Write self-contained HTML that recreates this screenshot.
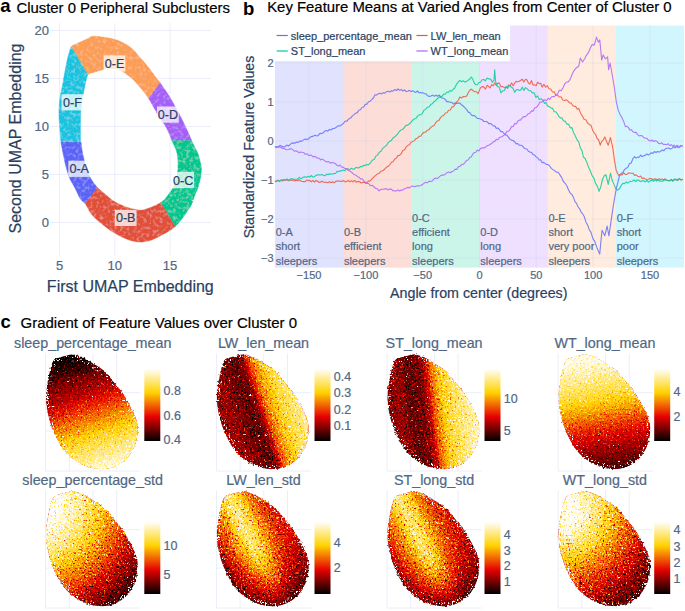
<!DOCTYPE html>
<html><head><meta charset="utf-8"><style>
html,body{margin:0;padding:0;background:#fff;width:685px;height:611px;overflow:hidden}
svg{display:block}
text{font-family:"Liberation Sans",sans-serif;stroke-width:0.2px;paint-order:stroke}
</style></head><body>
<svg width="685" height="611" viewBox="0 0 685 611">
<defs>
<linearGradient id="cb" x1="0" y1="1" x2="0" y2="0"><stop offset="0" stop-color="#000"/><stop offset="0.3333" stop-color="#e60000"/><stop offset="0.6667" stop-color="#ffd200"/><stop offset="1" stop-color="#fff"/></linearGradient>
<linearGradient id="g00_0" gradientUnits="userSpaceOnUse" x1="1.9569160964801577" y1="5.8996345182142225" x2="41.39239031672308" y2="124.78816804827262"><stop offset="0.000" stop-color="rgb(0,0,0)"/><stop offset="0.111" stop-color="rgb(14,14,14)"/><stop offset="0.222" stop-color="rgb(43,43,43)"/><stop offset="0.333" stop-color="rgb(66,66,66)"/><stop offset="0.444" stop-color="rgb(97,97,97)"/><stop offset="0.556" stop-color="rgb(134,134,134)"/><stop offset="0.667" stop-color="rgb(169,169,169)"/><stop offset="0.778" stop-color="rgb(200,200,200)"/><stop offset="0.889" stop-color="rgb(225,225,225)"/><stop offset="1.000" stop-color="rgb(252,252,252)"/></linearGradient>
<linearGradient id="g01_0" gradientUnits="userSpaceOnUse" x1="-10.967069019072602" y1="3.651837523737558" x2="69.21436310990634" y2="-23.04714303765059"><stop offset="0.000" stop-color="rgb(57,57,57)"/><stop offset="0.067" stop-color="rgb(55,55,55)"/><stop offset="0.133" stop-color="rgb(51,51,51)"/><stop offset="0.200" stop-color="rgb(43,43,43)"/><stop offset="0.267" stop-color="rgb(38,38,38)"/><stop offset="0.333" stop-color="rgb(37,37,37)"/><stop offset="0.400" stop-color="rgb(51,51,51)"/><stop offset="0.467" stop-color="rgb(112,112,112)"/><stop offset="0.533" stop-color="rgb(145,145,145)"/><stop offset="0.600" stop-color="rgb(166,166,166)"/><stop offset="0.667" stop-color="rgb(183,183,183)"/><stop offset="0.733" stop-color="rgb(196,196,196)"/><stop offset="0.800" stop-color="rgb(204,204,204)"/><stop offset="0.867" stop-color="rgb(214,214,214)"/><stop offset="0.933" stop-color="rgb(220,220,220)"/><stop offset="1.000" stop-color="rgb(232,232,232)"/></linearGradient>
<linearGradient id="g02_0" gradientUnits="userSpaceOnUse" x1="-0.47243365987725383" y1="0.057091680951933954" x2="88.3876305782436" y2="-10.681284662023398"><stop offset="0.000" stop-color="rgb(48,48,48)"/><stop offset="0.067" stop-color="rgb(59,59,59)"/><stop offset="0.133" stop-color="rgb(49,49,49)"/><stop offset="0.200" stop-color="rgb(36,36,36)"/><stop offset="0.267" stop-color="rgb(39,39,39)"/><stop offset="0.333" stop-color="rgb(42,42,42)"/><stop offset="0.400" stop-color="rgb(71,71,71)"/><stop offset="0.467" stop-color="rgb(127,127,127)"/><stop offset="0.533" stop-color="rgb(164,164,164)"/><stop offset="0.600" stop-color="rgb(183,183,183)"/><stop offset="0.667" stop-color="rgb(196,196,196)"/><stop offset="0.733" stop-color="rgb(209,209,209)"/><stop offset="0.800" stop-color="rgb(218,218,218)"/><stop offset="0.867" stop-color="rgb(225,225,225)"/><stop offset="0.933" stop-color="rgb(232,232,232)"/><stop offset="1.000" stop-color="rgb(255,255,255)"/></linearGradient>
<linearGradient id="g03_0" gradientUnits="userSpaceOnUse" x1="21.79602128600093" y1="131.57234569277628" x2="1.6948310431042684" y2="10.251646314709548"><stop offset="0.000" stop-color="rgb(12,12,12)"/><stop offset="0.091" stop-color="rgb(27,27,27)"/><stop offset="0.182" stop-color="rgb(43,43,43)"/><stop offset="0.273" stop-color="rgb(62,62,62)"/><stop offset="0.364" stop-color="rgb(84,84,84)"/><stop offset="0.455" stop-color="rgb(109,109,109)"/><stop offset="0.545" stop-color="rgb(140,140,140)"/><stop offset="0.636" stop-color="rgb(170,170,170)"/><stop offset="0.727" stop-color="rgb(196,196,196)"/><stop offset="0.818" stop-color="rgb(214,214,214)"/><stop offset="0.909" stop-color="rgb(232,232,232)"/><stop offset="1.000" stop-color="rgb(248,248,248)"/></linearGradient>
<radialGradient id="g10_0" gradientUnits="userSpaceOnUse" cx="-12" cy="12" r="140.0"><stop offset="0.000" stop-color="rgb(255,255,255)"/><stop offset="0.167" stop-color="rgb(255,255,255)"/><stop offset="0.250" stop-color="rgb(242,242,242)"/><stop offset="0.333" stop-color="rgb(219,219,219)"/><stop offset="0.417" stop-color="rgb(191,191,191)"/><stop offset="0.500" stop-color="rgb(163,163,163)"/><stop offset="0.583" stop-color="rgb(135,135,135)"/><stop offset="0.667" stop-color="rgb(107,107,107)"/><stop offset="0.750" stop-color="rgb(76,76,76)"/><stop offset="0.833" stop-color="rgb(48,48,48)"/><stop offset="0.917" stop-color="rgb(22,22,22)"/><stop offset="1.000" stop-color="rgb(0,0,0)"/></radialGradient>
<radialGradient id="g13_0" gradientUnits="userSpaceOnUse" cx="4" cy="20" r="125.0"><stop offset="0.000" stop-color="rgb(255,255,255)"/><stop offset="0.083" stop-color="rgb(255,255,255)"/><stop offset="0.167" stop-color="rgb(242,242,242)"/><stop offset="0.250" stop-color="rgb(216,216,216)"/><stop offset="0.333" stop-color="rgb(188,188,188)"/><stop offset="0.417" stop-color="rgb(160,160,160)"/><stop offset="0.500" stop-color="rgb(135,135,135)"/><stop offset="0.583" stop-color="rgb(109,109,109)"/><stop offset="0.667" stop-color="rgb(86,86,86)"/><stop offset="0.750" stop-color="rgb(63,63,63)"/><stop offset="0.833" stop-color="rgb(43,43,43)"/><stop offset="0.917" stop-color="rgb(22,22,22)"/><stop offset="1.000" stop-color="rgb(5,5,5)"/></radialGradient>
<linearGradient id="g11_0" gradientUnits="userSpaceOnUse" x1="-16.2" y1="30.8" x2="68.5" y2="-12.1"><stop offset="0.000" stop-color="rgb(44,44,44)"/><stop offset="0.091" stop-color="rgb(94,94,94)"/><stop offset="0.182" stop-color="rgb(127,127,127)"/><stop offset="0.273" stop-color="rgb(170,170,170)"/><stop offset="0.364" stop-color="rgb(216,216,216)"/><stop offset="0.455" stop-color="rgb(191,191,191)"/><stop offset="0.545" stop-color="rgb(147,147,147)"/><stop offset="0.636" stop-color="rgb(114,114,114)"/><stop offset="0.727" stop-color="rgb(96,96,96)"/><stop offset="0.818" stop-color="rgb(86,86,86)"/><stop offset="0.909" stop-color="rgb(84,84,84)"/><stop offset="1.000" stop-color="rgb(84,84,84)"/></linearGradient>
<linearGradient id="g11_1" gradientUnits="userSpaceOnUse" x1="33.0" y1="50.7" x2="66.9" y2="117.6"><stop offset="0.000" stop-color="#000" stop-opacity="0.0"/><stop offset="0.200" stop-color="#000" stop-opacity="0.08"/><stop offset="0.400" stop-color="#000" stop-opacity="0.23"/><stop offset="0.600" stop-color="#000" stop-opacity="0.42"/><stop offset="0.800" stop-color="#000" stop-opacity="0.65"/><stop offset="1.000" stop-color="#000" stop-opacity="0.88"/></linearGradient>
<linearGradient id="g12_0" gradientUnits="userSpaceOnUse" x1="-16.3" y1="30.7" x2="68.7" y2="-11.8"><stop offset="0.000" stop-color="rgb(58,58,58)"/><stop offset="0.091" stop-color="rgb(99,99,99)"/><stop offset="0.182" stop-color="rgb(132,132,132)"/><stop offset="0.273" stop-color="rgb(170,170,170)"/><stop offset="0.364" stop-color="rgb(211,211,211)"/><stop offset="0.455" stop-color="rgb(183,183,183)"/><stop offset="0.545" stop-color="rgb(140,140,140)"/><stop offset="0.636" stop-color="rgb(112,112,112)"/><stop offset="0.727" stop-color="rgb(94,94,94)"/><stop offset="0.818" stop-color="rgb(81,81,81)"/><stop offset="0.909" stop-color="rgb(73,73,73)"/><stop offset="1.000" stop-color="rgb(68,68,68)"/></linearGradient>
<linearGradient id="g12_1" gradientUnits="userSpaceOnUse" x1="32.9" y1="50.8" x2="66.4" y2="117.9"><stop offset="0.000" stop-color="#000" stop-opacity="0.0"/><stop offset="0.200" stop-color="#000" stop-opacity="0.05"/><stop offset="0.400" stop-color="#000" stop-opacity="0.18"/><stop offset="0.600" stop-color="#000" stop-opacity="0.37"/><stop offset="0.800" stop-color="#000" stop-opacity="0.62"/><stop offset="1.000" stop-color="#000" stop-opacity="0.88"/></linearGradient>
<filter id="hot00" x="-5%" y="-5%" width="110%" height="110%" color-interpolation-filters="sRGB">
<feTurbulence type="fractalNoise" baseFrequency="0.65" numOctaves="1" seed="3" result="n"/>
<feColorMatrix in="n" type="matrix" values="1 0 0 0 0 1 0 0 0 0 1 0 0 0 0 0 0 0 0 1" result="ng0"/>
<feComponentTransfer in="ng0" result="ng"><feFuncR type="table" tableValues="0 0.05 0.15 0.32 0.46 0.5 0.54 0.68 0.85 0.95 1"/><feFuncG type="table" tableValues="0 0.05 0.15 0.32 0.46 0.5 0.54 0.68 0.85 0.95 1"/><feFuncB type="table" tableValues="0 0.05 0.15 0.32 0.46 0.5 0.54 0.68 0.85 0.95 1"/></feComponentTransfer>
<feComposite in="SourceGraphic" in2="ng" operator="arithmetic" k1="0" k2="1" k3="0.7" k4="-0.35" result="v"/>
<feComponentTransfer in="v" result="c"><feFuncR type="table" tableValues="0 0.902 1 1"/><feFuncG type="table" tableValues="0 0 0.824 1"/><feFuncB type="table" tableValues="0 0 0 1"/></feComponentTransfer>
<feTurbulence type="fractalNoise" baseFrequency="0.8" numOctaves="1" seed="40" result="n2"/>
<feColorMatrix in="n2" type="matrix" values="0 0 0 0 1 0 0 0 0 1 0 0 0 0 1 14 0 0 0 -10.0" result="w"/>
<feColorMatrix in="n2" type="matrix" values="0 0 0 0 1 0 0 0 0 1 0 0 0 0 1 14 0 0 0 -8.3" result="w2"/>
<feMorphology in="SourceAlpha" operator="erode" radius="2.5" result="er"/>
<feComposite in="SourceAlpha" in2="er" operator="out" result="edge"/>
<feComposite in="w2" in2="edge" operator="in" result="we"/>
<feMerge result="cw"><feMergeNode in="c"/><feMergeNode in="w"/><feMergeNode in="we"/></feMerge>
<feComposite in="cw" in2="SourceAlpha" operator="in" result="cl"/>
<feTurbulence type="fractalNoise" baseFrequency="0.45" numOctaves="1" seed="70" result="n3"/>
<feDisplacementMap in="cl" in2="n3" scale="3.2" xChannelSelector="R" yChannelSelector="G"/>
</filter>
<filter id="hot01" x="-5%" y="-5%" width="110%" height="110%" color-interpolation-filters="sRGB">
<feTurbulence type="fractalNoise" baseFrequency="0.65" numOctaves="1" seed="4" result="n"/>
<feColorMatrix in="n" type="matrix" values="1 0 0 0 0 1 0 0 0 0 1 0 0 0 0 0 0 0 0 1" result="ng0"/>
<feComponentTransfer in="ng0" result="ng"><feFuncR type="table" tableValues="0 0.05 0.15 0.32 0.46 0.5 0.54 0.68 0.85 0.95 1"/><feFuncG type="table" tableValues="0 0.05 0.15 0.32 0.46 0.5 0.54 0.68 0.85 0.95 1"/><feFuncB type="table" tableValues="0 0.05 0.15 0.32 0.46 0.5 0.54 0.68 0.85 0.95 1"/></feComponentTransfer>
<feComposite in="SourceGraphic" in2="ng" operator="arithmetic" k1="0" k2="1" k3="1.0" k4="-0.5" result="v"/>
<feComponentTransfer in="v" result="c"><feFuncR type="table" tableValues="0 0.902 1 1"/><feFuncG type="table" tableValues="0 0 0.824 1"/><feFuncB type="table" tableValues="0 0 0 1"/></feComponentTransfer>
<feTurbulence type="fractalNoise" baseFrequency="0.8" numOctaves="1" seed="41" result="n2"/>
<feColorMatrix in="n2" type="matrix" values="0 0 0 0 1 0 0 0 0 1 0 0 0 0 1 14 0 0 0 -10.0" result="w"/>
<feColorMatrix in="n2" type="matrix" values="0 0 0 0 1 0 0 0 0 1 0 0 0 0 1 14 0 0 0 -8.3" result="w2"/>
<feMorphology in="SourceAlpha" operator="erode" radius="2.5" result="er"/>
<feComposite in="SourceAlpha" in2="er" operator="out" result="edge"/>
<feComposite in="w2" in2="edge" operator="in" result="we"/>
<feMerge result="cw"><feMergeNode in="c"/><feMergeNode in="w"/><feMergeNode in="we"/></feMerge>
<feComposite in="cw" in2="SourceAlpha" operator="in" result="cl"/>
<feTurbulence type="fractalNoise" baseFrequency="0.45" numOctaves="1" seed="71" result="n3"/>
<feDisplacementMap in="cl" in2="n3" scale="3.2" xChannelSelector="R" yChannelSelector="G"/>
</filter>
<filter id="hot02" x="-5%" y="-5%" width="110%" height="110%" color-interpolation-filters="sRGB">
<feTurbulence type="fractalNoise" baseFrequency="0.65" numOctaves="1" seed="5" result="n"/>
<feColorMatrix in="n" type="matrix" values="1 0 0 0 0 1 0 0 0 0 1 0 0 0 0 0 0 0 0 1" result="ng0"/>
<feComponentTransfer in="ng0" result="ng"><feFuncR type="table" tableValues="0 0.05 0.15 0.32 0.46 0.5 0.54 0.68 0.85 0.95 1"/><feFuncG type="table" tableValues="0 0.05 0.15 0.32 0.46 0.5 0.54 0.68 0.85 0.95 1"/><feFuncB type="table" tableValues="0 0.05 0.15 0.32 0.46 0.5 0.54 0.68 0.85 0.95 1"/></feComponentTransfer>
<feComposite in="SourceGraphic" in2="ng" operator="arithmetic" k1="0" k2="1" k3="1.0" k4="-0.5" result="v"/>
<feComponentTransfer in="v" result="c"><feFuncR type="table" tableValues="0 0.902 1 1"/><feFuncG type="table" tableValues="0 0 0.824 1"/><feFuncB type="table" tableValues="0 0 0 1"/></feComponentTransfer>
<feTurbulence type="fractalNoise" baseFrequency="0.8" numOctaves="1" seed="42" result="n2"/>
<feColorMatrix in="n2" type="matrix" values="0 0 0 0 1 0 0 0 0 1 0 0 0 0 1 14 0 0 0 -10.0" result="w"/>
<feColorMatrix in="n2" type="matrix" values="0 0 0 0 1 0 0 0 0 1 0 0 0 0 1 14 0 0 0 -8.3" result="w2"/>
<feMorphology in="SourceAlpha" operator="erode" radius="2.5" result="er"/>
<feComposite in="SourceAlpha" in2="er" operator="out" result="edge"/>
<feComposite in="w2" in2="edge" operator="in" result="we"/>
<feMerge result="cw"><feMergeNode in="c"/><feMergeNode in="w"/><feMergeNode in="we"/></feMerge>
<feComposite in="cw" in2="SourceAlpha" operator="in" result="cl"/>
<feTurbulence type="fractalNoise" baseFrequency="0.45" numOctaves="1" seed="72" result="n3"/>
<feDisplacementMap in="cl" in2="n3" scale="3.2" xChannelSelector="R" yChannelSelector="G"/>
</filter>
<filter id="hot03" x="-5%" y="-5%" width="110%" height="110%" color-interpolation-filters="sRGB">
<feTurbulence type="fractalNoise" baseFrequency="0.65" numOctaves="1" seed="6" result="n"/>
<feColorMatrix in="n" type="matrix" values="1 0 0 0 0 1 0 0 0 0 1 0 0 0 0 0 0 0 0 1" result="ng0"/>
<feComponentTransfer in="ng0" result="ng"><feFuncR type="table" tableValues="0 0.05 0.15 0.32 0.46 0.5 0.54 0.68 0.85 0.95 1"/><feFuncG type="table" tableValues="0 0.05 0.15 0.32 0.46 0.5 0.54 0.68 0.85 0.95 1"/><feFuncB type="table" tableValues="0 0.05 0.15 0.32 0.46 0.5 0.54 0.68 0.85 0.95 1"/></feComponentTransfer>
<feComposite in="SourceGraphic" in2="ng" operator="arithmetic" k1="0" k2="1" k3="0.7" k4="-0.35" result="v"/>
<feComponentTransfer in="v" result="c"><feFuncR type="table" tableValues="0 0.902 1 1"/><feFuncG type="table" tableValues="0 0 0.824 1"/><feFuncB type="table" tableValues="0 0 0 1"/></feComponentTransfer>
<feTurbulence type="fractalNoise" baseFrequency="0.8" numOctaves="1" seed="43" result="n2"/>
<feColorMatrix in="n2" type="matrix" values="0 0 0 0 1 0 0 0 0 1 0 0 0 0 1 14 0 0 0 -10.0" result="w"/>
<feColorMatrix in="n2" type="matrix" values="0 0 0 0 1 0 0 0 0 1 0 0 0 0 1 14 0 0 0 -8.3" result="w2"/>
<feMorphology in="SourceAlpha" operator="erode" radius="2.5" result="er"/>
<feComposite in="SourceAlpha" in2="er" operator="out" result="edge"/>
<feComposite in="w2" in2="edge" operator="in" result="we"/>
<feMerge result="cw"><feMergeNode in="c"/><feMergeNode in="w"/><feMergeNode in="we"/></feMerge>
<feComposite in="cw" in2="SourceAlpha" operator="in" result="cl"/>
<feTurbulence type="fractalNoise" baseFrequency="0.45" numOctaves="1" seed="73" result="n3"/>
<feDisplacementMap in="cl" in2="n3" scale="3.2" xChannelSelector="R" yChannelSelector="G"/>
</filter>
<filter id="hot10" x="-5%" y="-5%" width="110%" height="110%" color-interpolation-filters="sRGB">
<feTurbulence type="fractalNoise" baseFrequency="0.65" numOctaves="1" seed="7" result="n"/>
<feColorMatrix in="n" type="matrix" values="1 0 0 0 0 1 0 0 0 0 1 0 0 0 0 0 0 0 0 1" result="ng0"/>
<feComponentTransfer in="ng0" result="ng"><feFuncR type="table" tableValues="0 0.05 0.15 0.32 0.46 0.5 0.54 0.68 0.85 0.95 1"/><feFuncG type="table" tableValues="0 0.05 0.15 0.32 0.46 0.5 0.54 0.68 0.85 0.95 1"/><feFuncB type="table" tableValues="0 0.05 0.15 0.32 0.46 0.5 0.54 0.68 0.85 0.95 1"/></feComponentTransfer>
<feComposite in="SourceGraphic" in2="ng" operator="arithmetic" k1="0" k2="1" k3="1.3" k4="-0.65" result="v"/>
<feComponentTransfer in="v" result="c"><feFuncR type="table" tableValues="0 0.902 1 1"/><feFuncG type="table" tableValues="0 0 0.824 1"/><feFuncB type="table" tableValues="0 0 0 1"/></feComponentTransfer>
<feTurbulence type="fractalNoise" baseFrequency="0.8" numOctaves="1" seed="44" result="n2"/>
<feColorMatrix in="n2" type="matrix" values="0 0 0 0 1 0 0 0 0 1 0 0 0 0 1 14 0 0 0 -10.0" result="w"/>
<feColorMatrix in="n2" type="matrix" values="0 0 0 0 1 0 0 0 0 1 0 0 0 0 1 14 0 0 0 -8.3" result="w2"/>
<feMorphology in="SourceAlpha" operator="erode" radius="2.5" result="er"/>
<feComposite in="SourceAlpha" in2="er" operator="out" result="edge"/>
<feComposite in="w2" in2="edge" operator="in" result="we"/>
<feMerge result="cw"><feMergeNode in="c"/><feMergeNode in="w"/><feMergeNode in="we"/></feMerge>
<feComposite in="cw" in2="SourceAlpha" operator="in" result="cl"/>
<feTurbulence type="fractalNoise" baseFrequency="0.45" numOctaves="1" seed="74" result="n3"/>
<feDisplacementMap in="cl" in2="n3" scale="3.2" xChannelSelector="R" yChannelSelector="G"/>
</filter>
<filter id="hot11" x="-5%" y="-5%" width="110%" height="110%" color-interpolation-filters="sRGB">
<feTurbulence type="fractalNoise" baseFrequency="0.65" numOctaves="1" seed="8" result="n"/>
<feColorMatrix in="n" type="matrix" values="1 0 0 0 0 1 0 0 0 0 1 0 0 0 0 0 0 0 0 1" result="ng0"/>
<feComponentTransfer in="ng0" result="ng"><feFuncR type="table" tableValues="0 0.05 0.15 0.32 0.46 0.5 0.54 0.68 0.85 0.95 1"/><feFuncG type="table" tableValues="0 0.05 0.15 0.32 0.46 0.5 0.54 0.68 0.85 0.95 1"/><feFuncB type="table" tableValues="0 0.05 0.15 0.32 0.46 0.5 0.54 0.68 0.85 0.95 1"/></feComponentTransfer>
<feComposite in="SourceGraphic" in2="ng" operator="arithmetic" k1="0" k2="1" k3="1.3" k4="-0.65" result="v"/>
<feComponentTransfer in="v" result="c"><feFuncR type="table" tableValues="0 0.902 1 1"/><feFuncG type="table" tableValues="0 0 0.824 1"/><feFuncB type="table" tableValues="0 0 0 1"/></feComponentTransfer>
<feTurbulence type="fractalNoise" baseFrequency="0.8" numOctaves="1" seed="45" result="n2"/>
<feColorMatrix in="n2" type="matrix" values="0 0 0 0 1 0 0 0 0 1 0 0 0 0 1 14 0 0 0 -10.0" result="w"/>
<feColorMatrix in="n2" type="matrix" values="0 0 0 0 1 0 0 0 0 1 0 0 0 0 1 14 0 0 0 -8.3" result="w2"/>
<feMorphology in="SourceAlpha" operator="erode" radius="2.5" result="er"/>
<feComposite in="SourceAlpha" in2="er" operator="out" result="edge"/>
<feComposite in="w2" in2="edge" operator="in" result="we"/>
<feMerge result="cw"><feMergeNode in="c"/><feMergeNode in="w"/><feMergeNode in="we"/></feMerge>
<feComposite in="cw" in2="SourceAlpha" operator="in" result="cl"/>
<feTurbulence type="fractalNoise" baseFrequency="0.45" numOctaves="1" seed="75" result="n3"/>
<feDisplacementMap in="cl" in2="n3" scale="3.2" xChannelSelector="R" yChannelSelector="G"/>
</filter>
<filter id="hot12" x="-5%" y="-5%" width="110%" height="110%" color-interpolation-filters="sRGB">
<feTurbulence type="fractalNoise" baseFrequency="0.65" numOctaves="1" seed="9" result="n"/>
<feColorMatrix in="n" type="matrix" values="1 0 0 0 0 1 0 0 0 0 1 0 0 0 0 0 0 0 0 1" result="ng0"/>
<feComponentTransfer in="ng0" result="ng"><feFuncR type="table" tableValues="0 0.05 0.15 0.32 0.46 0.5 0.54 0.68 0.85 0.95 1"/><feFuncG type="table" tableValues="0 0.05 0.15 0.32 0.46 0.5 0.54 0.68 0.85 0.95 1"/><feFuncB type="table" tableValues="0 0.05 0.15 0.32 0.46 0.5 0.54 0.68 0.85 0.95 1"/></feComponentTransfer>
<feComposite in="SourceGraphic" in2="ng" operator="arithmetic" k1="0" k2="1" k3="1.3" k4="-0.65" result="v"/>
<feComponentTransfer in="v" result="c"><feFuncR type="table" tableValues="0 0.902 1 1"/><feFuncG type="table" tableValues="0 0 0.824 1"/><feFuncB type="table" tableValues="0 0 0 1"/></feComponentTransfer>
<feTurbulence type="fractalNoise" baseFrequency="0.8" numOctaves="1" seed="46" result="n2"/>
<feColorMatrix in="n2" type="matrix" values="0 0 0 0 1 0 0 0 0 1 0 0 0 0 1 14 0 0 0 -10.0" result="w"/>
<feColorMatrix in="n2" type="matrix" values="0 0 0 0 1 0 0 0 0 1 0 0 0 0 1 14 0 0 0 -8.3" result="w2"/>
<feMorphology in="SourceAlpha" operator="erode" radius="2.5" result="er"/>
<feComposite in="SourceAlpha" in2="er" operator="out" result="edge"/>
<feComposite in="w2" in2="edge" operator="in" result="we"/>
<feMerge result="cw"><feMergeNode in="c"/><feMergeNode in="w"/><feMergeNode in="we"/></feMerge>
<feComposite in="cw" in2="SourceAlpha" operator="in" result="cl"/>
<feTurbulence type="fractalNoise" baseFrequency="0.45" numOctaves="1" seed="76" result="n3"/>
<feDisplacementMap in="cl" in2="n3" scale="3.2" xChannelSelector="R" yChannelSelector="G"/>
</filter>
<filter id="hot13" x="-5%" y="-5%" width="110%" height="110%" color-interpolation-filters="sRGB">
<feTurbulence type="fractalNoise" baseFrequency="0.65" numOctaves="1" seed="10" result="n"/>
<feColorMatrix in="n" type="matrix" values="1 0 0 0 0 1 0 0 0 0 1 0 0 0 0 0 0 0 0 1" result="ng0"/>
<feComponentTransfer in="ng0" result="ng"><feFuncR type="table" tableValues="0 0.05 0.15 0.32 0.46 0.5 0.54 0.68 0.85 0.95 1"/><feFuncG type="table" tableValues="0 0.05 0.15 0.32 0.46 0.5 0.54 0.68 0.85 0.95 1"/><feFuncB type="table" tableValues="0 0.05 0.15 0.32 0.46 0.5 0.54 0.68 0.85 0.95 1"/></feComponentTransfer>
<feComposite in="SourceGraphic" in2="ng" operator="arithmetic" k1="0" k2="1" k3="1.3" k4="-0.65" result="v"/>
<feComponentTransfer in="v" result="c"><feFuncR type="table" tableValues="0 0.902 1 1"/><feFuncG type="table" tableValues="0 0 0.824 1"/><feFuncB type="table" tableValues="0 0 0 1"/></feComponentTransfer>
<feTurbulence type="fractalNoise" baseFrequency="0.8" numOctaves="1" seed="47" result="n2"/>
<feColorMatrix in="n2" type="matrix" values="0 0 0 0 1 0 0 0 0 1 0 0 0 0 1 14 0 0 0 -10.0" result="w"/>
<feColorMatrix in="n2" type="matrix" values="0 0 0 0 1 0 0 0 0 1 0 0 0 0 1 14 0 0 0 -8.3" result="w2"/>
<feMorphology in="SourceAlpha" operator="erode" radius="2.5" result="er"/>
<feComposite in="SourceAlpha" in2="er" operator="out" result="edge"/>
<feComposite in="w2" in2="edge" operator="in" result="we"/>
<feMerge result="cw"><feMergeNode in="c"/><feMergeNode in="w"/><feMergeNode in="we"/></feMerge>
<feComposite in="cw" in2="SourceAlpha" operator="in" result="cl"/>
<feTurbulence type="fractalNoise" baseFrequency="0.45" numOctaves="1" seed="77" result="n3"/>
<feDisplacementMap in="cl" in2="n3" scale="3.2" xChannelSelector="R" yChannelSelector="G"/>
</filter>
<filter id="soft" x="-5%" y="-5%" width="110%" height="110%"><feTurbulence type="fractalNoise" baseFrequency="0.5" numOctaves="2" seed="11" result="t"/><feDisplacementMap in="SourceGraphic" in2="t" scale="1.6" xChannelSelector="R" yChannelSelector="G" result="d"/><feGaussianBlur in="d" stdDeviation="0.7" result="b"/><feTurbulence type="fractalNoise" baseFrequency="0.3" numOctaves="2" seed="5" result="t2"/><feColorMatrix in="t2" type="matrix" values="0 0 0 0 1 0 0 0 0 1 0 0 0 0 1 0.6 0 0 0 -0.29" result="w0"/><feGaussianBlur in="w0" stdDeviation="0.6" result="w"/><feComposite in="w" in2="b" operator="in" result="wi"/><feMerge><feMergeNode in="b"/><feMergeNode in="wi"/></feMerge></filter>
</defs>
<text x="0.3" y="12.3" font-size="18.5" fill="#000" text-anchor="start" font-weight="700" >a</text>
<text x="16.4" y="12.6" font-size="14.9" fill="#000" stroke="#000" text-anchor="start" font-weight="400" >Cluster 0 Peripheral Subclusters</text>
<line x1="59.5" y1="22.9" x2="59.5" y2="255.4" stroke="#ebeef8" stroke-width="1"/>
<line x1="114.8" y1="22.9" x2="114.8" y2="255.4" stroke="#ebeef8" stroke-width="1"/>
<line x1="170.1" y1="22.9" x2="170.1" y2="255.4" stroke="#ebeef8" stroke-width="1"/>
<line x1="50.1" y1="30.5" x2="210.6" y2="30.5" stroke="#ebeef8" stroke-width="1"/>
<line x1="50.1" y1="78.5" x2="210.6" y2="78.5" stroke="#ebeef8" stroke-width="1"/>
<line x1="50.1" y1="126.5" x2="210.6" y2="126.5" stroke="#ebeef8" stroke-width="1"/>
<line x1="50.1" y1="174.5" x2="210.6" y2="174.5" stroke="#ebeef8" stroke-width="1"/>
<line x1="50.1" y1="222.5" x2="210.6" y2="222.5" stroke="#ebeef8" stroke-width="1"/>
<text x="49" y="34.9" font-size="13" fill="#506784" stroke="#506784" text-anchor="end" font-weight="400" >20</text>
<text x="49" y="82.9" font-size="13" fill="#506784" stroke="#506784" text-anchor="end" font-weight="400" >15</text>
<text x="49" y="130.9" font-size="13" fill="#506784" stroke="#506784" text-anchor="end" font-weight="400" >10</text>
<text x="49" y="178.9" font-size="13" fill="#506784" stroke="#506784" text-anchor="end" font-weight="400" >5</text>
<text x="49" y="226.9" font-size="13" fill="#506784" stroke="#506784" text-anchor="end" font-weight="400" >0</text>
<text x="59.5" y="270" font-size="13" fill="#506784" stroke="#506784" text-anchor="middle" font-weight="400" >5</text>
<text x="114.8" y="270" font-size="13" fill="#506784" stroke="#506784" text-anchor="middle" font-weight="400" >10</text>
<text x="170.1" y="270" font-size="13" fill="#506784" stroke="#506784" text-anchor="middle" font-weight="400" >15</text>
<text x="130.3" y="292.3" font-size="16" fill="#2a3f5f" stroke="#2a3f5f" text-anchor="middle" font-weight="400" >First UMAP Embedding</text>
<text transform="translate(20.7,138.5) rotate(-90)" font-size="16" fill="#2a3f5f" stroke="#2a3f5f" text-anchor="middle">Second UMAP Embedding</text>
<g filter="url(#soft)">
<path d="M71.1,46.9 L71.8,45.9 L72.5,45.4 L73.2,45.1 L74.1,44.9 L75.0,44.5 L76.1,44.0 L77.3,43.4 L78.6,42.8 L80.0,42.2 L81.3,41.6 L82.7,41.0 L84.1,40.3 L85.5,39.7 L86.8,39.1 L88.0,38.5 L88.9,38.0 L89.6,37.5 L90.2,37.0 L90.9,36.7 L91.8,36.4 L92.9,36.3 L94.1,36.2 L95.4,36.3 L96.7,36.4 L98.0,36.5 L99.2,36.6 L100.4,36.8 L101.6,36.9 L102.8,37.1 L104.0,37.3 L105.2,37.5 L106.4,37.7 L107.6,37.8 L108.8,38.1 L110.0,38.3 L111.2,38.6 L112.5,38.8 L113.8,39.2 L115.0,39.5 L116.3,39.9 L117.5,40.3 L118.8,40.8 L120.0,41.3 L121.3,41.9 L122.5,42.5 L123.7,43.1 L125.0,43.8 L126.2,44.5 L127.4,45.2 L128.6,46.0 L129.7,46.8 L130.8,47.7 L131.9,48.5 L133.0,49.5 L134.0,50.5 L135.0,51.6 L136.0,52.8 L137.1,54.0 L138.1,55.3 L139.1,56.5 L140.2,57.7 L141.3,58.9 L142.3,60.1 L143.4,61.3 L144.5,62.5 L145.5,63.7 L146.6,65.0 L147.6,66.2 L148.6,67.5 L149.6,68.8 L150.6,70.1 L151.5,71.4 L152.5,72.8 L153.5,74.1 L154.5,75.5 L155.6,76.9 L156.8,78.5 L157.9,80.0 L159.1,81.4 L160.1,82.8 L148.7,98.6 L147.8,97.2 L146.9,95.9 L145.9,94.5 L145.0,93.2 L144.0,92.0 L143.0,90.8 L142.1,89.7 L141.1,88.5 L140.1,87.4 L139.1,86.3 L138.1,85.1 L137.1,83.9 L136.1,82.7 L135.0,81.6 L134.0,80.5 L133.0,79.5 L131.9,78.5 L130.8,77.6 L129.7,76.7 L128.6,75.8 L127.4,74.9 L126.2,74.0 L125.0,73.1 L123.7,72.3 L122.5,71.5 L121.3,70.8 L120.0,70.2 L118.7,69.6 L117.5,69.2 L116.3,68.8 L115.2,68.6 L114.1,68.5 L113.1,68.5 L112.0,68.5 L111.0,68.5 L109.9,68.5 L108.9,68.5 L107.8,68.6 L106.8,68.7 L105.8,68.8 L104.9,69.0 L104.0,69.2 L103.2,69.5 L102.4,69.7 L101.5,70.0 L100.6,70.3 L99.7,70.5 L98.8,70.8 L97.9,71.1 L97.0,71.4 L96.0,71.7 L95.0,71.9 L94.0,72.2 L93.0,72.5 L92.0,72.8 L91.1,73.1 L90.2,73.4 L89.3,73.7 L88.6,74.2 L87.9,74.9Z" fill="#fc9d55" stroke="#fc9d55" stroke-width="0.5"/>
<path d="M160.1,82.8 L161.0,84.0 L161.7,85.1 L162.4,86.2 L163.2,87.3 L164.0,88.5 L164.9,89.8 L165.9,91.2 L166.9,92.6 L167.9,94.1 L168.9,95.7 L169.9,97.4 L170.9,99.1 L172.0,100.9 L173.0,102.7 L174.0,104.5 L175.0,106.3 L176.0,108.1 L176.9,109.9 L177.9,111.7 L178.8,113.4 L179.7,115.1 L180.6,116.7 L181.4,118.3 L182.2,119.9 L183.0,121.5 L183.8,123.1 L184.5,124.6 L185.2,126.2 L185.9,127.7 L186.6,129.1 L187.2,130.5 L187.9,131.8 L188.4,133.1 L189.0,134.3 L189.5,135.5 L189.9,136.6 L190.3,137.5 L190.7,138.4 L191.1,139.3 L191.5,140.4 L171.9,140.4 L171.3,138.8 L170.6,137.1 L169.9,135.3 L169.2,133.6 L168.5,132.0 L167.8,130.5 L167.1,129.1 L166.4,127.8 L165.7,126.5 L165.0,125.2 L164.2,124.0 L163.4,122.9 L162.6,121.8 L161.8,120.6 L161.0,119.5 L160.2,118.3 L159.5,117.2 L158.7,116.0 L158.0,114.7 L157.2,113.4 L156.4,112.0 L155.6,110.5 L154.7,109.0 L153.9,107.5 L153.0,106.0 L152.2,104.5 L151.3,103.0 L150.5,101.5 L149.6,100.0 L148.7,98.6Z" fill="#a55ef7" stroke="#a55ef7" stroke-width="0.5"/>
<path d="M191.5,140.4 L192.0,141.6 L192.6,142.9 L193.3,144.2 L193.9,145.5 L194.5,146.8 L195.1,148.0 L195.8,149.1 L196.4,150.2 L197.0,151.3 L197.5,152.5 L198.0,153.7 L198.3,154.8 L198.7,156.0 L199.0,157.3 L199.4,158.6 L199.8,160.1 L200.3,161.7 L200.7,163.4 L201.0,165.0 L201.3,166.4 L201.4,167.7 L201.4,168.8 L201.4,169.8 L201.3,170.9 L201.2,172.0 L201.1,173.2 L201.0,174.3 L200.9,175.5 L200.7,176.8 L200.4,178.2 L200.0,179.8 L199.6,181.6 L199.1,183.5 L198.6,185.4 L198.0,187.2 L197.4,189.0 L196.7,190.7 L195.9,192.5 L195.2,194.2 L194.5,196.0 L193.9,197.8 L193.3,199.6 L192.7,201.4 L192.1,203.1 L191.4,204.7 L190.6,206.2 L189.7,207.6 L188.8,208.9 L187.9,210.2 L187.0,211.5 L186.2,212.8 L185.4,214.0 L184.6,215.2 L183.7,216.5 L182.6,217.9 L181.3,219.5 L179.9,221.3 L178.4,223.2 L176.7,225.0 L175.0,226.6 L160.7,202.6 L161.5,202.1 L162.2,201.5 L163.0,200.9 L163.7,200.3 L164.5,199.5 L165.4,198.5 L166.3,197.4 L167.2,196.2 L168.1,195.1 L168.9,194.0 L169.6,193.1 L170.2,192.2 L170.8,191.3 L171.4,190.4 L172.0,189.5 L172.6,188.5 L173.2,187.5 L173.8,186.4 L174.3,185.3 L174.8,184.1 L175.2,182.9 L175.6,181.6 L175.9,180.2 L176.2,178.9 L176.5,177.5 L176.8,176.1 L177.1,174.6 L177.4,173.1 L177.6,171.7 L177.8,170.4 L177.9,169.2 L178.0,168.2 L178.0,167.2 L178.0,166.1 L178.0,165.0 L178.0,163.8 L178.0,162.5 L177.9,161.2 L177.9,159.8 L177.8,158.6 L177.7,157.4 L177.6,156.3 L177.4,155.2 L177.3,154.1 L177.0,153.0 L176.7,151.8 L176.3,150.6 L175.8,149.3 L175.3,148.1 L174.8,146.8 L174.3,145.6 L173.7,144.4 L173.1,143.1 L172.5,141.8 L171.9,140.4Z" fill="#05c792" stroke="#05c792" stroke-width="0.5"/>
<path d="M175.0,226.6 L173.2,228.1 L171.4,229.4 L169.4,230.7 L167.3,231.9 L165.1,233.2 L162.6,234.6 L159.8,236.1 L157.0,237.5 L154.3,238.8 L152.0,239.8 L150.2,240.5 L148.7,240.9 L147.4,241.1 L146.3,241.3 L145.0,241.5 L143.7,241.7 L142.5,241.9 L141.4,242.0 L140.1,242.0 L138.8,242.0 L137.3,241.9 L135.8,241.6 L134.2,241.3 L132.6,240.9 L131.0,240.5 L129.5,240.0 L128.0,239.5 L126.5,238.9 L125.0,238.3 L123.5,237.6 L121.9,236.9 L120.3,236.1 L118.7,235.2 L117.1,234.4 L115.5,233.5 L114.0,232.6 L112.5,231.7 L111.0,230.8 L109.6,229.8 L108.2,228.8 L106.8,227.8 L105.5,226.7 L104.1,225.7 L102.8,224.6 L101.5,223.5 L100.2,222.4 L98.8,221.3 L97.5,220.2 L96.2,219.0 L95.0,217.9 L93.9,216.8 L92.9,215.7 L91.9,214.6 L91.0,213.3 L90.0,212.0 L89.0,210.4 L88.1,208.6 L87.1,206.8 L86.2,205.1 L85.2,203.6 L97.2,187.2 L97.8,187.9 L98.1,188.2 L98.3,188.5 L98.7,188.8 L99.4,189.4 L100.4,190.3 L101.7,191.4 L103.1,192.6 L104.6,193.8 L106.0,195.0 L107.3,196.1 L108.6,197.3 L110.0,198.4 L111.3,199.4 L112.6,200.4 L113.9,201.2 L115.2,202.0 L116.4,202.7 L117.7,203.4 L119.0,204.0 L120.3,204.6 L121.6,205.2 L123.0,205.8 L124.3,206.4 L125.7,206.9 L127.1,207.4 L128.5,207.8 L130.0,208.3 L131.5,208.7 L133.0,209.0 L134.6,209.3 L136.3,209.7 L137.9,209.9 L139.5,210.1 L141.0,210.2 L142.3,210.1 L143.4,209.9 L144.4,209.7 L145.4,209.3 L146.5,209.0 L147.6,208.6 L148.7,208.2 L149.9,207.8 L151.0,207.3 L152.0,206.9 L153.0,206.5 L153.9,206.1 L154.8,205.8 L155.6,205.4 L156.5,205.0 L157.4,204.6 L158.2,204.1 L159.1,203.6 L159.9,203.1 L160.7,202.6Z" fill="#e14f37" stroke="#e14f37" stroke-width="0.5"/>
<path d="M85.2,203.6 L84.3,202.5 L83.4,201.8 L82.4,201.1 L81.5,200.3 L80.5,199.0 L79.4,197.2 L78.3,194.9 L77.2,192.5 L76.0,190.1 L75.0,188.0 L74.0,186.2 L73.0,184.5 L72.1,182.9 L71.3,181.4 L70.5,180.0 L69.9,178.7 L69.4,177.5 L68.9,176.3 L68.5,175.0 L68.0,173.6 L67.5,171.9 L67.0,170.1 L66.4,168.1 L65.9,166.2 L65.5,164.5 L65.1,163.0 L64.8,161.5 L64.5,160.2 L64.2,158.8 L63.9,157.3 L63.6,155.7 L63.2,154.0 L62.8,152.3 L62.5,150.6 L62.2,149.0 L61.9,147.5 L61.7,146.2 L61.4,144.9 L61.2,143.4 L61.0,141.7 L80.5,141.7 L80.6,142.5 L80.7,142.5 L80.8,142.2 L81.0,142.1 L81.1,142.5 L81.3,143.6 L81.4,145.0 L81.6,146.7 L81.8,148.4 L82.0,150.0 L82.3,151.5 L82.5,152.9 L82.8,154.4 L83.2,155.8 L83.5,157.3 L83.9,158.8 L84.2,160.3 L84.6,161.8 L85.0,163.4 L85.5,165.0 L86.0,166.7 L86.6,168.5 L87.1,170.2 L87.8,172.0 L88.4,173.6 L89.0,175.1 L89.7,176.5 L90.4,177.8 L91.2,179.2 L92.0,180.5 L93.0,181.9 L94.1,183.4 L95.3,184.9 L96.3,186.2 L97.2,187.2Z" fill="#5a63f6" stroke="#5a63f6" stroke-width="0.5"/>
<path d="M61.0,141.7 L60.8,139.7 L60.6,137.4 L60.4,135.0 L60.2,132.5 L60.0,130.0 L59.8,127.4 L59.5,124.6 L59.3,121.8 L59.1,119.0 L59.0,116.4 L59.0,113.9 L59.0,111.6 L59.1,109.3 L59.2,107.1 L59.3,105.0 L59.4,103.0 L59.6,101.2 L59.8,99.4 L60.0,97.7 L60.3,96.0 L60.6,94.4 L60.9,92.8 L61.3,91.3 L61.6,89.7 L62.0,88.0 L62.4,86.1 L62.7,84.1 L63.1,82.0 L63.4,80.0 L63.8,78.0 L64.1,76.2 L64.4,74.4 L64.8,72.6 L65.1,70.8 L65.5,68.8 L65.9,66.6 L66.4,64.2 L66.9,61.7 L67.4,59.3 L68.0,57.0 L68.6,54.7 L69.2,52.5 L69.8,50.3 L70.4,48.4 L71.1,46.9 L87.9,74.9 L87.4,75.8 L87.0,76.9 L86.7,78.2 L86.4,79.5 L86.0,81.0 L85.6,82.6 L85.2,84.3 L84.8,86.2 L84.4,88.1 L84.0,90.0 L83.6,91.9 L83.2,93.8 L82.7,95.8 L82.3,97.9 L82.0,100.0 L81.7,102.3 L81.4,104.6 L81.2,107.0 L81.0,109.5 L80.8,112.0 L80.7,114.7 L80.6,117.5 L80.5,120.3 L80.4,122.9 L80.4,125.0 L80.4,126.4 L80.4,127.3 L80.4,127.9 L80.4,128.7 L80.4,130.0 L80.4,132.1 L80.4,134.7 L80.4,137.5 L80.4,140.0 L80.5,141.7Z" fill="#17c4e0" stroke="#17c4e0" stroke-width="0.5"/>
</g>
<rect x="103.6" y="55.4" width="21.8" height="16.2" fill="#fff" fill-opacity="0.75"/>
<text x="114.5" y="68.0" font-size="12.6" fill="#2a3f5f" stroke="#2a3f5f" text-anchor="middle" font-weight="400" >0-E</text>
<rect x="61.6" y="94.2" width="21.8" height="16.2" fill="#fff" fill-opacity="0.75"/>
<text x="72.5" y="106.8" font-size="12.6" fill="#2a3f5f" stroke="#2a3f5f" text-anchor="middle" font-weight="400" >0-F</text>
<rect x="157.0" y="106.5" width="21.8" height="16.2" fill="#fff" fill-opacity="0.75"/>
<text x="167.9" y="119.1" font-size="12.6" fill="#2a3f5f" stroke="#2a3f5f" text-anchor="middle" font-weight="400" >0-D</text>
<rect x="172.29999999999998" y="171.9" width="21.8" height="16.2" fill="#fff" fill-opacity="0.75"/>
<text x="183.2" y="184.5" font-size="12.6" fill="#2a3f5f" stroke="#2a3f5f" text-anchor="middle" font-weight="400" >0-C</text>
<rect x="114.8" y="209.8" width="21.8" height="16.2" fill="#fff" fill-opacity="0.75"/>
<text x="125.7" y="222.4" font-size="12.6" fill="#2a3f5f" stroke="#2a3f5f" text-anchor="middle" font-weight="400" >0-B</text>
<rect x="68.3" y="160.70000000000002" width="21.8" height="16.2" fill="#fff" fill-opacity="0.75"/>
<text x="79.2" y="173.3" font-size="12.6" fill="#2a3f5f" stroke="#2a3f5f" text-anchor="middle" font-weight="400" >0-A</text>
<text x="243.0" y="14.6" font-size="18.5" fill="#000" text-anchor="start" font-weight="700" >b</text>
<text x="267.2" y="12.4" font-size="14.9" fill="#000" stroke="#000" text-anchor="start" font-weight="400" >Key Feature Means at Varied Angles from Center of Cluster 0</text>
<rect x="274.93" y="25.5" width="68.19" height="242.10000000000002" fill="#636efa" fill-opacity="0.2"/>
<rect x="343.12" y="25.5" width="68.19" height="242.10000000000002" fill="#ef553b" fill-opacity="0.2"/>
<rect x="411.31" y="25.5" width="68.19" height="242.10000000000002" fill="#00cc96" fill-opacity="0.2"/>
<rect x="479.50" y="25.5" width="68.19" height="242.10000000000002" fill="#ab63fa" fill-opacity="0.2"/>
<rect x="547.69" y="25.5" width="68.19" height="242.10000000000002" fill="#ffa15a" fill-opacity="0.2"/>
<rect x="615.88" y="25.5" width="68.19" height="242.10000000000002" fill="#19d3f3" fill-opacity="0.2"/>
<line x1="309.0" y1="25.5" x2="309.0" y2="267.6" stroke="#c8d0e8" stroke-opacity="0.35" stroke-width="1"/>
<line x1="365.9" y1="25.5" x2="365.9" y2="267.6" stroke="#c8d0e8" stroke-opacity="0.35" stroke-width="1"/>
<line x1="422.7" y1="25.5" x2="422.7" y2="267.6" stroke="#c8d0e8" stroke-opacity="0.35" stroke-width="1"/>
<line x1="479.5" y1="25.5" x2="479.5" y2="267.6" stroke="#c8d0e8" stroke-opacity="0.35" stroke-width="1"/>
<line x1="536.3" y1="25.5" x2="536.3" y2="267.6" stroke="#c8d0e8" stroke-opacity="0.35" stroke-width="1"/>
<line x1="593.1" y1="25.5" x2="593.1" y2="267.6" stroke="#c8d0e8" stroke-opacity="0.35" stroke-width="1"/>
<line x1="650.0" y1="25.5" x2="650.0" y2="267.6" stroke="#c8d0e8" stroke-opacity="0.35" stroke-width="1"/>
<line x1="274.8" y1="258.0" x2="683.8" y2="258.0" stroke="#c8d0e8" stroke-opacity="0.35" stroke-width="1"/>
<line x1="274.8" y1="219.0" x2="683.8" y2="219.0" stroke="#c8d0e8" stroke-opacity="0.35" stroke-width="1"/>
<line x1="274.8" y1="180.0" x2="683.8" y2="180.0" stroke="#c8d0e8" stroke-opacity="0.35" stroke-width="1"/>
<line x1="274.8" y1="141.0" x2="683.8" y2="141.0" stroke="#c8d0e8" stroke-opacity="0.35" stroke-width="1"/>
<line x1="274.8" y1="102.0" x2="683.8" y2="102.0" stroke="#c8d0e8" stroke-opacity="0.35" stroke-width="1"/>
<line x1="274.8" y1="63.0" x2="683.8" y2="63.0" stroke="#c8d0e8" stroke-opacity="0.35" stroke-width="1"/>
<text x="273.5" y="66.9" font-size="11" fill="#506784" stroke="#506784" text-anchor="end" font-weight="400" >2</text>
<text x="273.5" y="105.9" font-size="11" fill="#506784" stroke="#506784" text-anchor="end" font-weight="400" >1</text>
<text x="273.5" y="144.9" font-size="11" fill="#506784" stroke="#506784" text-anchor="end" font-weight="400" >0</text>
<text x="273.5" y="183.9" font-size="11" fill="#506784" stroke="#506784" text-anchor="end" font-weight="400" >−1</text>
<text x="273.5" y="222.9" font-size="11" fill="#506784" stroke="#506784" text-anchor="end" font-weight="400" >−2</text>
<text x="273.5" y="261.9" font-size="11" fill="#506784" stroke="#506784" text-anchor="end" font-weight="400" >−3</text>
<text x="309.0" y="279.3" font-size="11" fill="#506784" stroke="#506784" text-anchor="middle" font-weight="400" >−150</text>
<text x="365.9" y="279.3" font-size="11" fill="#506784" stroke="#506784" text-anchor="middle" font-weight="400" >−100</text>
<text x="422.7" y="279.3" font-size="11" fill="#506784" stroke="#506784" text-anchor="middle" font-weight="400" >−50</text>
<text x="479.5" y="279.3" font-size="11" fill="#506784" stroke="#506784" text-anchor="middle" font-weight="400" >0</text>
<text x="536.3" y="279.3" font-size="11" fill="#506784" stroke="#506784" text-anchor="middle" font-weight="400" >50</text>
<text x="593.1" y="279.3" font-size="11" fill="#506784" stroke="#506784" text-anchor="middle" font-weight="400" >100</text>
<text x="650.0" y="279.3" font-size="11" fill="#506784" stroke="#506784" text-anchor="middle" font-weight="400" >150</text>
<text x="478.8" y="297.5" font-size="14.25" fill="#2a3f5f" stroke="#2a3f5f" text-anchor="middle" font-weight="400" >Angle from center (degrees)</text>
<text transform="translate(254.3,147) rotate(-90)" font-size="14.2" fill="#2a3f5f" stroke="#2a3f5f" text-anchor="middle">Standardized Feature Values</text>
<path d="M274.9,147.0 L276.6,146.8 L278.3,147.1 L280.0,145.3 L281.7,146.4 L283.3,146.8 L285.0,146.7 L286.6,145.1 L288.3,146.0 L290.0,144.7 L291.6,143.2 L293.2,142.9 L294.9,143.3 L296.6,142.0 L298.2,142.4 L299.9,141.0 L301.5,141.4 L303.1,140.1 L304.8,139.1 L306.4,139.4 L308.0,139.3 L309.8,137.5 L311.6,136.6 L313.4,136.1 L315.2,135.3 L316.8,135.9 L318.3,135.4 L319.9,133.3 L321.4,133.6 L323.0,133.0 L324.6,131.3 L326.2,130.6 L327.8,131.2 L329.4,129.4 L331.0,130.0 L332.7,128.5 L334.3,128.5 L336.0,127.6 L337.9,125.8 L339.8,126.0 L341.7,124.8 L343.5,123.4 L345.3,121.0 L347.0,121.2 L348.8,118.9 L350.6,118.1 L352.2,116.1 L353.9,114.7 L355.5,113.3 L357.1,112.9 L358.8,110.2 L360.4,109.8 L362.0,107.5 L363.7,107.0 L365.3,104.4 L366.9,104.1 L368.6,101.7 L370.2,101.2 L371.8,99.7 L373.4,98.0 L375.0,94.7 L376.6,95.0 L378.1,93.9 L379.8,93.3 L381.5,93.9 L383.1,92.7 L384.8,93.1 L386.5,91.7 L388.1,91.3 L389.8,92.0 L391.4,90.7 L393.0,91.1 L394.6,89.6 L396.3,90.5 L397.9,89.0 L399.5,90.2 L401.2,89.4 L402.8,91.0 L404.5,89.9 L406.1,91.5 L407.8,91.3 L409.4,90.3 L411.0,91.7 L412.7,90.6 L414.3,91.8 L415.9,92.4 L417.5,91.0 L419.2,92.8 L420.8,92.6 L422.5,92.8 L424.2,93.6 L426.0,93.8 L427.7,95.8 L429.3,96.4 L431.0,96.0 L432.6,95.1 L434.3,96.2 L435.9,95.2 L437.6,96.2 L439.2,95.0 L440.7,97.5 L442.2,98.0 L443.8,98.5 L445.3,99.4 L446.8,101.6 L448.3,101.6 L450.0,102.2 L451.8,102.3 L453.5,104.1 L455.2,102.8 L456.7,103.4 L458.3,103.1 L459.8,103.0 L461.5,104.8 L463.2,106.0 L465.0,107.8 L466.7,109.6 L468.2,112.1 L469.7,112.5 L471.2,114.7 L472.8,115.8 L474.3,115.5 L475.8,116.8 L477.3,118.4 L478.9,118.5 L480.4,119.0 L482.1,119.7 L483.8,121.5 L485.5,121.5 L487.2,121.7 L488.7,123.7 L490.2,123.4 L491.8,124.3 L493.3,126.0 L494.8,125.9 L496.3,128.4 L497.8,127.9 L499.4,129.5 L500.9,131.6 L502.4,131.6 L504.0,133.5 L505.5,134.9 L507.0,135.3 L508.6,137.4 L510.1,139.4 L511.6,140.1 L513.2,140.5 L514.7,141.9 L516.2,143.9 L517.7,143.5 L519.2,145.2 L520.8,145.2 L522.3,145.8 L523.8,147.7 L525.3,148.7 L526.9,149.0 L528.4,151.3 L529.9,152.1 L531.5,152.3 L533.0,154.6 L534.5,155.1 L536.1,156.9 L537.6,157.8 L539.1,160.0 L540.7,159.9 L542.2,162.8 L543.7,162.4 L545.2,163.7 L546.8,164.5 L548.3,164.6 L549.8,166.2 L551.3,168.4 L553.0,169.6 L554.8,170.9 L556.5,172.2 L558.2,172.3 L559.9,174.9 L561.7,177.6 L563.4,181.5 L565.1,183.3 L566.8,185.7 L568.5,189.8 L570.3,193.3 L572.0,194.4 L573.5,197.4 L575.0,201.6 L576.5,203.4 L578.1,207.0 L579.6,208.8 L581.1,212.1 L582.7,213.9 L584.2,216.5 L585.9,221.9 L587.6,224.9 L589.3,229.8 L591.0,232.4 L592.9,238.6 L594.9,241.6 L596.8,247.4 L599.7,254.1 L602.0,230.2 L604.8,235.8 L607.1,226.0 L608.9,235.9 L611.7,216.6 L613.4,205.1 L615.1,195.3 L616.6,187.2 L618.2,181.2 L619.7,174.8 L621.3,173.3 L622.9,172.6 L624.5,169.6 L626.1,168.3 L627.7,167.6 L629.4,163.7 L631.2,163.0 L632.9,158.7 L634.6,156.7 L636.1,158.1 L637.6,157.1 L639.2,157.3 L640.7,155.1 L642.2,156.6 L643.7,155.8 L645.2,155.4 L646.8,153.9 L648.3,155.1 L649.8,154.0 L651.4,152.7 L652.9,153.4 L654.4,151.6 L656.0,152.5 L657.5,151.5 L659.0,152.1 L660.6,151.4 L662.1,149.9 L663.7,150.8 L665.4,148.8 L667.0,148.2 L668.6,148.0 L670.2,149.1 L671.9,148.4 L673.5,146.7 L675.0,147.9 L676.6,145.9 L678.1,147.7 L679.6,147.5 L681.2,145.5 L682.7,146.0" fill="none" stroke="#636efa" stroke-width="1.1" stroke-opacity="0.85" stroke-linejoin="round"/>
<path d="M274.9,182.1 L276.4,180.9 L277.9,180.3 L279.5,181.3 L281.0,180.2 L282.5,181.0 L284.0,180.2 L285.5,179.7 L287.0,179.9 L288.6,180.8 L290.1,180.1 L291.6,180.6 L293.1,179.5 L294.6,180.9 L296.1,180.2 L297.7,180.8 L299.2,179.7 L300.7,181.0 L302.2,181.5 L303.7,181.6 L305.2,181.6 L306.8,180.1 L308.3,180.8 L309.8,180.4 L311.3,181.8 L312.8,180.4 L314.3,182.1 L315.8,180.6 L317.4,181.0 L318.9,182.4 L320.4,182.2 L321.9,181.3 L323.4,182.1 L324.9,182.3 L326.5,182.4 L328.0,182.7 L329.5,181.6 L331.0,182.8 L332.5,181.7 L334.1,182.8 L335.6,181.5 L337.1,180.9 L338.6,181.2 L340.2,181.1 L341.7,181.6 L343.3,180.4 L344.9,181.8 L346.5,181.6 L348.1,180.4 L349.7,181.9 L351.3,180.8 L352.9,181.9 L354.5,180.3 L356.2,182.2 L357.9,181.4 L359.6,181.7 L361.2,183.0 L362.9,182.3 L364.6,182.5 L366.3,183.5 L368.3,181.1 L370.2,180.9 L372.2,178.7 L374.0,176.9 L375.7,175.4 L377.5,173.8 L379.2,173.3 L381.0,171.0 L382.8,170.7 L384.7,169.2 L386.5,167.2 L388.1,166.3 L389.8,164.8 L391.4,162.3 L393.0,161.7 L394.6,159.3 L396.3,158.1 L397.9,155.6 L399.5,155.4 L401.2,153.7 L402.8,150.6 L404.4,150.0 L406.1,146.9 L407.7,145.6 L409.4,144.8 L411.0,142.3 L412.6,141.6 L414.3,140.6 L415.9,138.7 L417.5,138.2 L419.2,136.2 L420.8,136.2 L422.4,133.5 L424.1,132.3 L425.7,132.2 L427.4,130.2 L429.0,129.7 L430.7,127.6 L432.3,126.1 L433.9,125.7 L435.6,122.8 L437.2,121.1 L438.8,120.6 L440.4,117.9 L442.1,116.0 L443.7,115.5 L445.3,113.0 L447.0,112.7 L448.6,110.2 L450.3,110.0 L451.9,106.9 L453.6,106.8 L455.2,104.2 L456.7,101.9 L458.3,100.4 L459.8,97.0 L461.5,98.1 L463.2,96.5 L465.0,96.8 L466.7,96.0 L468.2,92.7 L469.7,90.5 L471.2,89.1 L472.9,90.5 L474.6,91.7 L476.4,91.7 L478.1,93.6 L480.4,87.9 L482.1,86.6 L483.8,86.9 L485.5,89.1 L487.2,85.2 L488.7,86.6 L490.2,87.8 L491.8,84.6 L493.3,85.7 L494.8,82.8 L496.3,85.5 L497.8,83.1 L499.4,83.1 L500.9,86.6 L502.4,86.5 L504.0,87.3 L505.5,87.6 L507.0,87.8 L508.6,84.9 L510.1,85.7 L511.6,82.9 L513.2,85.8 L514.7,82.9 L516.2,81.4 L517.7,81.7 L519.2,81.3 L520.8,80.2 L522.3,79.2 L523.8,82.1 L525.3,79.4 L526.9,79.8 L528.4,83.0 L529.9,84.1 L531.5,80.6 L533.0,85.0 L534.5,84.8 L536.1,85.7 L537.6,82.2 L539.1,83.6 L540.7,83.3 L542.2,87.1 L543.9,84.3 L545.6,87.2 L547.3,85.7 L549.0,88.7 L550.7,89.0 L552.5,92.0 L554.2,91.7 L555.9,95.3 L557.6,95.1 L559.3,97.0 L561.1,96.9 L562.8,100.0 L564.5,100.5 L566.2,99.7 L568.0,101.2 L569.7,103.0 L571.2,103.0 L572.7,105.5 L574.2,106.4 L575.8,106.4 L577.3,109.2 L578.8,108.4 L580.6,113.3 L582.4,116.1 L584.2,119.5 L585.9,119.7 L587.6,123.0 L589.3,124.4 L591.0,125.2 L592.5,129.9 L594.1,132.8 L595.6,134.5 L597.1,138.5 L598.7,140.0 L600.2,145.2 L601.7,141.3 L603.3,139.9 L604.8,136.9 L606.5,141.3 L608.2,145.3 L610.5,137.5 L612.8,148.1 L614.5,160.4 L616.2,170.4 L618.5,175.2 L620.2,174.8 L622.0,174.9 L623.7,172.9 L625.4,174.5 L626.9,174.4 L628.5,172.8 L630.0,173.2 L631.5,173.3 L633.1,173.4 L634.6,175.5 L636.1,174.7 L637.6,176.2 L639.2,176.9 L640.7,176.0 L642.2,178.6 L643.7,177.9 L645.2,178.8 L646.8,179.5 L648.3,179.3 L649.8,178.5 L651.4,178.5 L652.9,180.1 L654.4,178.8 L656.0,179.0 L657.5,179.7 L659.0,178.7 L660.6,179.8 L662.1,178.9 L663.6,180.0 L665.1,178.8 L666.7,180.2 L668.2,180.6 L669.7,180.6 L671.2,179.4 L672.8,181.1 L674.5,179.5 L676.1,179.4 L677.8,180.5 L679.4,178.7 L681.1,180.2 L682.7,179.3" fill="none" stroke="#ef553b" stroke-width="1.1" stroke-opacity="0.85" stroke-linejoin="round"/>
<path d="M274.9,180.6 L276.4,181.6 L277.9,180.6 L279.5,181.4 L281.0,180.1 L282.5,179.8 L284.0,179.6 L285.5,180.2 L287.0,178.9 L288.6,180.3 L290.1,179.2 L291.6,178.6 L293.1,179.2 L294.6,179.3 L296.1,179.3 L297.7,179.2 L299.2,177.3 L300.7,178.7 L302.2,177.9 L303.7,177.1 L305.2,176.7 L306.8,177.4 L308.3,176.3 L309.8,177.1 L311.3,175.5 L312.8,177.0 L314.3,176.9 L315.8,175.5 L317.4,174.8 L318.9,174.9 L320.4,175.0 L321.9,174.6 L323.4,175.3 L324.9,175.8 L326.5,174.0 L328.0,174.9 L329.5,173.7 L331.0,174.1 L332.5,174.0 L334.1,173.6 L335.6,173.5 L337.1,171.2 L338.6,171.7 L340.2,170.8 L341.7,170.9 L343.3,169.9 L344.9,170.7 L346.5,168.8 L348.1,168.9 L349.7,169.7 L351.3,168.3 L352.9,169.3 L354.5,168.9 L356.0,167.3 L357.6,167.9 L359.1,167.7 L360.6,166.5 L362.2,166.8 L363.7,165.2 L365.2,165.6 L366.8,164.4 L368.3,164.9 L370.3,163.2 L372.2,160.3 L374.2,159.5 L375.9,156.1 L377.6,155.1 L379.3,152.3 L381.0,151.3 L382.8,148.3 L384.7,146.6 L386.5,145.5 L388.1,142.8 L389.8,141.2 L391.4,140.4 L393.0,138.0 L394.6,137.0 L396.3,135.4 L397.9,133.6 L399.5,131.2 L401.2,129.9 L402.8,129.3 L404.4,127.3 L406.1,125.4 L407.7,125.1 L409.4,124.0 L411.0,122.3 L412.6,120.2 L414.3,118.9 L415.9,118.4 L417.5,116.1 L419.2,114.9 L420.8,114.8 L422.4,113.3 L424.1,110.1 L425.7,109.1 L427.4,107.2 L429.0,107.0 L430.7,104.6 L432.3,103.7 L433.9,101.8 L435.6,100.7 L437.2,98.9 L438.8,97.5 L440.4,96.4 L442.1,96.4 L443.7,94.0 L445.2,94.2 L446.8,92.0 L448.3,92.5 L449.8,90.5 L451.4,91.3 L452.9,89.5 L454.6,88.3 L456.4,84.4 L458.1,82.1 L459.8,80.4 L461.5,81.7 L463.2,80.8 L465.0,82.1 L466.7,81.3 L468.2,80.1 L469.7,79.0 L471.2,77.0 L472.7,79.1 L474.3,83.1 L475.8,84.8 L477.3,84.7 L478.9,82.5 L480.4,82.2 L482.1,79.8 L483.8,79.5 L485.5,80.8 L487.2,78.0 L488.9,79.0 L490.6,79.1 L492.3,82.3 L494.0,80.1 L494.7,69.7 L495.5,81.1 L497.3,86.6 L499.1,86.7 L500.9,92.9 L502.6,90.9 L504.4,90.5 L506.1,86.3 L507.8,88.3 L509.5,85.5 L511.2,87.0 L513.0,88.3 L514.7,92.4 L516.2,89.8 L517.7,89.6 L519.2,90.4 L520.8,90.1 L522.3,87.1 L523.8,90.5 L525.5,87.6 L527.2,88.9 L529.0,90.7 L530.7,90.8 L532.4,92.9 L534.2,92.9 L535.9,97.4 L537.6,95.9 L539.3,99.7 L541.0,98.6 L542.8,100.1 L544.5,103.5 L546.0,102.4 L547.5,106.0 L549.0,106.4 L550.7,107.9 L552.5,108.3 L554.2,111.7 L555.9,111.8 L557.4,113.8 L559.0,116.7 L560.5,118.0 L562.0,117.9 L563.6,120.9 L565.1,121.1 L566.8,124.1 L568.5,124.1 L570.3,127.9 L572.0,127.6 L573.5,132.6 L575.0,135.2 L576.9,139.6 L578.8,141.9 L580.3,148.0 L581.9,150.4 L583.4,157.0 L585.2,158.7 L586.9,162.4 L588.7,167.6 L590.4,171.3 L592.2,175.9 L593.9,178.2 L595.6,183.6 L597.4,186.1 L599.1,191.4 L600.8,186.6 L602.5,179.5 L604.2,175.8 L605.9,174.6 L608.2,184.4 L610.5,173.2 L612.2,180.3 L614.0,184.4 L615.7,188.7 L617.4,190.2 L619.3,189.0 L621.2,185.4 L623.1,183.2 L624.6,183.6 L626.2,181.9 L627.7,183.1 L629.2,181.8 L630.8,181.5 L632.3,181.3 L633.9,179.8 L635.6,181.7 L637.2,180.0 L638.8,180.3 L640.4,181.6 L642.1,180.9 L643.7,180.8 L645.3,181.8 L647.0,180.5 L648.6,182.1 L650.3,180.6 L651.9,180.4 L653.6,181.4 L655.2,179.7 L656.8,181.0 L658.5,180.0 L660.1,181.2 L661.8,181.1 L663.4,180.9 L665.1,179.8 L666.7,180.1 L668.3,180.7 L669.9,180.7 L671.5,179.5 L673.1,180.9 L674.7,178.9 L676.3,180.2 L677.9,179.3 L679.5,178.7 L681.1,179.8 L682.7,179.3" fill="none" stroke="#00cc96" stroke-width="1.1" stroke-opacity="0.85" stroke-linejoin="round"/>
<path d="M274.9,146.5 L276.4,147.4 L277.9,146.9 L279.5,146.8 L281.0,147.5 L282.5,148.5 L284.0,148.1 L285.5,149.5 L287.0,149.7 L288.6,149.5 L290.1,148.8 L291.6,148.9 L293.1,149.9 L294.6,151.3 L296.1,150.8 L297.7,151.8 L299.2,152.8 L300.7,152.0 L302.2,152.3 L303.7,152.5 L305.2,154.3 L306.8,153.7 L308.3,155.1 L309.8,155.4 L311.3,155.0 L312.9,156.8 L314.4,156.4 L316.0,157.0 L317.6,158.3 L319.1,158.2 L320.7,159.9 L322.3,159.1 L323.9,160.1 L325.4,161.3 L327.0,162.1 L328.6,161.6 L330.3,163.1 L331.9,162.5 L333.5,162.8 L335.2,163.4 L336.8,165.2 L338.4,166.0 L340.1,165.0 L341.7,167.2 L343.3,167.1 L344.9,168.7 L346.5,168.5 L348.1,170.5 L349.7,171.0 L351.3,171.9 L352.9,173.6 L354.5,174.8 L356.1,175.2 L357.6,176.8 L359.2,177.3 L360.8,179.2 L362.4,178.8 L363.9,181.3 L365.5,182.3 L367.1,183.5 L368.6,183.5 L370.2,185.6 L372.0,185.3 L373.7,186.5 L375.5,188.4 L377.2,188.7 L379.0,190.8 L380.5,189.7 L382.0,189.2 L383.5,189.2 L385.0,188.9 L386.5,188.8 L388.1,189.9 L389.8,189.0 L391.4,189.1 L393.0,190.8 L394.6,190.9 L396.3,191.0 L397.9,189.9 L399.5,191.0 L401.2,190.0 L402.8,190.2 L404.4,188.7 L406.1,188.2 L407.7,187.4 L409.4,187.9 L411.0,186.6 L412.6,186.0 L414.3,186.6 L415.9,186.2 L417.5,185.9 L419.2,186.0 L420.8,185.5 L422.4,184.6 L424.1,183.2 L425.7,182.2 L427.4,182.8 L429.0,181.4 L430.7,181.5 L432.3,180.9 L433.9,179.0 L435.6,178.1 L437.2,178.6 L438.8,177.3 L440.4,175.8 L442.1,175.0 L443.7,175.1 L445.3,174.2 L447.0,172.7 L448.6,172.1 L450.3,172.8 L451.9,171.5 L453.6,171.0 L455.2,169.2 L456.8,169.4 L458.5,166.6 L460.1,166.3 L461.8,164.3 L463.4,164.3 L465.1,162.3 L466.7,160.2 L468.2,160.0 L469.7,157.5 L471.2,157.0 L472.8,154.0 L474.3,152.6 L475.8,152.3 L477.3,150.1 L478.9,151.0 L480.4,148.6 L482.1,147.9 L483.8,147.9 L485.5,147.2 L487.2,145.6 L488.7,145.2 L490.2,144.3 L491.8,143.5 L493.3,141.7 L494.8,141.4 L496.3,139.3 L497.8,139.7 L499.4,137.5 L500.9,136.9 L502.4,136.4 L504.0,135.2 L505.5,133.6 L507.0,131.2 L508.6,131.1 L510.1,129.6 L511.6,126.6 L513.2,126.4 L514.7,123.4 L516.2,123.9 L517.7,121.3 L519.2,120.1 L520.8,119.9 L522.3,117.8 L523.8,116.5 L525.3,116.6 L526.9,115.4 L528.4,113.7 L529.9,113.3 L531.5,110.9 L533.0,111.3 L534.7,108.1 L536.5,107.3 L538.2,105.2 L539.9,102.0 L541.6,102.2 L543.3,100.4 L545.0,99.9 L546.7,100.5 L548.2,98.2 L549.8,99.6 L551.3,97.0 L552.8,96.5 L554.4,96.7 L555.9,95.2 L557.6,93.9 L559.3,90.3 L561.1,90.6 L562.8,88.4 L564.6,84.2 L566.4,82.2 L568.2,81.9 L570.0,79.6 L572.0,74.7 L573.9,70.8 L575.9,68.2 L578.8,66.0 L580.3,58.0 L582.5,62.0 L584.7,58.8 L586.2,55.6 L588.4,52.7 L590.2,48.2 L592.1,44.6 L594.3,45.0 L596.5,37.1 L598.3,42.2 L599.8,39.9 L601.7,60.0 L603.2,54.9 L605.4,58.8 L607.6,56.8 L608.6,69.7 L610.1,63.0 L611.3,69.5 L614.2,86.4 L616.4,102.3 L618.2,110.1 L620.1,114.5 L621.9,117.6 L623.6,121.2 L625.4,126.6 L626.9,126.3 L628.5,127.6 L630.0,130.1 L631.5,129.7 L633.1,132.0 L634.6,132.4 L636.1,132.4 L637.6,134.6 L639.2,135.9 L640.7,135.5 L642.2,135.8 L643.7,137.5 L645.3,138.2 L647.0,138.3 L648.6,140.3 L650.3,140.9 L651.9,140.0 L653.6,141.5 L655.2,140.8 L656.8,141.2 L658.5,143.4 L660.1,143.7 L661.8,142.8 L663.4,144.5 L665.1,144.3 L666.7,144.8 L668.2,143.6 L669.7,145.7 L671.2,144.6 L672.8,146.1 L674.3,145.0 L675.8,147.3 L677.5,145.3 L679.2,146.7 L681.0,145.4 L682.7,146.4" fill="none" stroke="#ab63fa" stroke-width="1.1" stroke-opacity="0.85" stroke-linejoin="round"/>
<rect x="274.3" y="24.5" width="235.8" height="36.7" fill="#fff"/>
<line x1="276.6" y1="35.5" x2="287.8" y2="35.5" stroke="#636efa" stroke-width="1.2"/>
<text x="290.8" y="39.5" font-size="11" fill="#2a3f5f" stroke="#2a3f5f" text-anchor="start" font-weight="400" >sleep_percentage_mean</text>
<line x1="416.4" y1="35.5" x2="427.59999999999997" y2="35.5" stroke="#ef553b" stroke-width="1.2"/>
<text x="430.59999999999997" y="39.5" font-size="11" fill="#2a3f5f" stroke="#2a3f5f" text-anchor="start" font-weight="400" >LW_len_mean</text>
<line x1="276.6" y1="51" x2="287.8" y2="51" stroke="#00cc96" stroke-width="1.2"/>
<text x="290.8" y="55" font-size="11" fill="#2a3f5f" stroke="#2a3f5f" text-anchor="start" font-weight="400" >ST_long_mean</text>
<line x1="416.4" y1="51" x2="427.59999999999997" y2="51" stroke="#ab63fa" stroke-width="1.2"/>
<text x="430.59999999999997" y="55" font-size="11" fill="#2a3f5f" stroke="#2a3f5f" text-anchor="start" font-weight="400" >WT_long_mean</text>
<text x="275.7" y="235.9" font-size="11" fill="#506784" stroke="#506784" text-anchor="start" font-weight="400" >0-A</text>
<text x="275.7" y="250.2" font-size="11" fill="#506784" stroke="#506784" text-anchor="start" font-weight="400" >short</text>
<text x="275.7" y="264.5" font-size="11" fill="#506784" stroke="#506784" text-anchor="start" font-weight="400" >sleepers</text>
<text x="343.9" y="235.9" font-size="11" fill="#506784" stroke="#506784" text-anchor="start" font-weight="400" >0-B</text>
<text x="343.9" y="250.2" font-size="11" fill="#506784" stroke="#506784" text-anchor="start" font-weight="400" >efficient</text>
<text x="343.9" y="264.5" font-size="11" fill="#506784" stroke="#506784" text-anchor="start" font-weight="400" >sleepers</text>
<text x="412.1" y="221.6" font-size="11" fill="#506784" stroke="#506784" text-anchor="start" font-weight="400" >0-C</text>
<text x="412.1" y="235.9" font-size="11" fill="#506784" stroke="#506784" text-anchor="start" font-weight="400" >efficient</text>
<text x="412.1" y="250.2" font-size="11" fill="#506784" stroke="#506784" text-anchor="start" font-weight="400" >long</text>
<text x="412.1" y="264.5" font-size="11" fill="#506784" stroke="#506784" text-anchor="start" font-weight="400" >sleepers</text>
<text x="480.3" y="235.9" font-size="11" fill="#506784" stroke="#506784" text-anchor="start" font-weight="400" >0-D</text>
<text x="480.3" y="250.2" font-size="11" fill="#506784" stroke="#506784" text-anchor="start" font-weight="400" >long</text>
<text x="480.3" y="264.5" font-size="11" fill="#506784" stroke="#506784" text-anchor="start" font-weight="400" >sleepers</text>
<text x="548.5" y="221.6" font-size="11" fill="#506784" stroke="#506784" text-anchor="start" font-weight="400" >0-E</text>
<text x="548.5" y="235.9" font-size="11" fill="#506784" stroke="#506784" text-anchor="start" font-weight="400" >short</text>
<text x="548.5" y="250.2" font-size="11" fill="#506784" stroke="#506784" text-anchor="start" font-weight="400" >very poor</text>
<text x="548.5" y="264.5" font-size="11" fill="#506784" stroke="#506784" text-anchor="start" font-weight="400" >sleepers</text>
<text x="616.7" y="221.6" font-size="11" fill="#506784" stroke="#506784" text-anchor="start" font-weight="400" >0-F</text>
<text x="616.7" y="235.9" font-size="11" fill="#506784" stroke="#506784" text-anchor="start" font-weight="400" >short</text>
<text x="616.7" y="250.2" font-size="11" fill="#506784" stroke="#506784" text-anchor="start" font-weight="400" >poor</text>
<text x="616.7" y="264.5" font-size="11" fill="#506784" stroke="#506784" text-anchor="start" font-weight="400" >sleepers</text>
<text x="0.6" y="328.2" font-size="18.5" fill="#000" text-anchor="start" font-weight="700" >c</text>
<text x="20.5" y="327.9" font-size="15" fill="#000" stroke="#000" text-anchor="start" font-weight="400" >Gradient of Feature Values over Cluster 0</text>
<defs><path id="egg" d="M28.0,0.4C30.8,0.8 34.6,2.3 37.8,3.8C41.0,5.3 43.6,7.3 47.0,9.5C50.4,11.7 54.8,13.6 58.4,16.9C62.0,20.2 65.7,25.5 68.8,29.3C71.9,33.1 74.4,35.5 77.2,39.7C80.0,43.9 83.2,49.8 85.5,54.3C87.8,58.8 89.7,63.0 90.7,66.8C91.7,70.6 91.9,73.4 91.7,77.2C91.5,81.0 91.0,85.6 89.6,89.6C88.2,93.7 85.8,98.2 83.4,101.5C81.0,104.8 78.6,107.0 75.1,109.2C71.6,111.4 66.8,113.7 62.6,114.6C58.4,115.5 54.2,115.4 50.1,114.8C45.9,114.3 41.9,113.2 37.7,111.3C33.6,109.4 29.0,106.9 25.2,103.6C21.4,100.3 17.9,96.4 14.8,91.7C11.7,86.9 8.8,81.0 6.5,75.1C4.2,69.2 2.3,62.3 1.3,56.4C0.2,50.5 -0.0,45.3 0.2,39.7C0.4,34.1 1.7,27.8 2.6,23.0C3.5,18.2 4.5,13.9 5.5,11.0C6.5,8.1 7.1,6.6 8.5,5.3C9.9,4.0 11.9,3.8 14.0,3.2C16.1,2.6 18.7,2.0 21.0,1.5C23.3,1.0 25.2,0.0 28.0,0.4Z"/></defs>
<line x1="45.6" y1="353.3" x2="45.6" y2="471" stroke="#ebeef8" stroke-width="1"/>
<line x1="69.3" y1="353.3" x2="69.3" y2="471" stroke="#ebeef8" stroke-width="1"/>
<line x1="93.0" y1="353.3" x2="93.0" y2="471" stroke="#ebeef8" stroke-width="1"/>
<line x1="116.7" y1="353.3" x2="116.7" y2="471" stroke="#ebeef8" stroke-width="1"/>
<line x1="45.6" y1="392.7" x2="140.4" y2="392.7" stroke="#ebeef8" stroke-width="1"/>
<line x1="45.6" y1="431.1" x2="140.4" y2="431.1" stroke="#ebeef8" stroke-width="1"/>
<line x1="45.6" y1="471" x2="140.4" y2="471" stroke="#ebeef8" stroke-width="1"/>
<text x="92.7" y="347.6" font-size="14.3" fill="#506784" stroke="#506784" text-anchor="middle" font-weight="400" >sleep_percentage_mean</text>
<g transform="translate(46.0,354)"><g filter="url(#hot00)">
<use href="#egg" fill="url(#g00_0)"/>
</g></g>
<rect x="144.3" y="368.5" width="16" height="72.5" fill="url(#cb)"/>
<text x="163.6" y="394.9" font-size="12.5" fill="#506784" stroke="#506784" text-anchor="start" font-weight="400" >0.8</text>
<text x="163.6" y="419.8" font-size="12.5" fill="#506784" stroke="#506784" text-anchor="start" font-weight="400" >0.6</text>
<text x="163.6" y="444.3" font-size="12.5" fill="#506784" stroke="#506784" text-anchor="start" font-weight="400" >0.4</text>
<line x1="216.4" y1="353.3" x2="216.4" y2="471" stroke="#ebeef8" stroke-width="1"/>
<line x1="240.1" y1="353.3" x2="240.1" y2="471" stroke="#ebeef8" stroke-width="1"/>
<line x1="263.8" y1="353.3" x2="263.8" y2="471" stroke="#ebeef8" stroke-width="1"/>
<line x1="287.5" y1="353.3" x2="287.5" y2="471" stroke="#ebeef8" stroke-width="1"/>
<line x1="216.4" y1="392.7" x2="311.2" y2="392.7" stroke="#ebeef8" stroke-width="1"/>
<line x1="216.4" y1="431.1" x2="311.2" y2="431.1" stroke="#ebeef8" stroke-width="1"/>
<line x1="216.4" y1="471" x2="311.2" y2="471" stroke="#ebeef8" stroke-width="1"/>
<text x="263.5" y="347.6" font-size="14.3" fill="#506784" stroke="#506784" text-anchor="middle" font-weight="400" >LW_len_mean</text>
<g transform="translate(216.8,354)"><g filter="url(#hot01)">
<use href="#egg" fill="url(#g01_0)"/>
</g></g>
<rect x="314.5" y="368.5" width="16" height="72.5" fill="url(#cb)"/>
<text x="333.8" y="380.5" font-size="12.5" fill="#506784" stroke="#506784" text-anchor="start" font-weight="400" >0.4</text>
<text x="333.8" y="397.3" font-size="12.5" fill="#506784" stroke="#506784" text-anchor="start" font-weight="400" >0.3</text>
<text x="333.8" y="413.8" font-size="12.5" fill="#506784" stroke="#506784" text-anchor="start" font-weight="400" >0.2</text>
<text x="333.8" y="430.1" font-size="12.5" fill="#506784" stroke="#506784" text-anchor="start" font-weight="400" >0.1</text>
<line x1="387.0" y1="353.3" x2="387.0" y2="471" stroke="#ebeef8" stroke-width="1"/>
<line x1="410.7" y1="353.3" x2="410.7" y2="471" stroke="#ebeef8" stroke-width="1"/>
<line x1="434.4" y1="353.3" x2="434.4" y2="471" stroke="#ebeef8" stroke-width="1"/>
<line x1="458.1" y1="353.3" x2="458.1" y2="471" stroke="#ebeef8" stroke-width="1"/>
<line x1="387.0" y1="392.7" x2="481.8" y2="392.7" stroke="#ebeef8" stroke-width="1"/>
<line x1="387.0" y1="431.1" x2="481.8" y2="431.1" stroke="#ebeef8" stroke-width="1"/>
<line x1="387.0" y1="471" x2="481.8" y2="471" stroke="#ebeef8" stroke-width="1"/>
<text x="434.1" y="347.6" font-size="14.3" fill="#506784" stroke="#506784" text-anchor="middle" font-weight="400" >ST_long_mean</text>
<g transform="translate(387.4,354)"><g filter="url(#hot02)">
<use href="#egg" fill="url(#g02_0)"/>
</g></g>
<rect x="484.5" y="368.5" width="16" height="72.5" fill="url(#cb)"/>
<text x="503.8" y="402.8" font-size="12.5" fill="#506784" stroke="#506784" text-anchor="start" font-weight="400" >10</text>
<text x="503.8" y="434.9" font-size="12.5" fill="#506784" stroke="#506784" text-anchor="start" font-weight="400" >5</text>
<line x1="558.1" y1="353.3" x2="558.1" y2="471" stroke="#ebeef8" stroke-width="1"/>
<line x1="581.8" y1="353.3" x2="581.8" y2="471" stroke="#ebeef8" stroke-width="1"/>
<line x1="605.5" y1="353.3" x2="605.5" y2="471" stroke="#ebeef8" stroke-width="1"/>
<line x1="629.2" y1="353.3" x2="629.2" y2="471" stroke="#ebeef8" stroke-width="1"/>
<line x1="558.1" y1="392.7" x2="652.9" y2="392.7" stroke="#ebeef8" stroke-width="1"/>
<line x1="558.1" y1="431.1" x2="652.9" y2="431.1" stroke="#ebeef8" stroke-width="1"/>
<line x1="558.1" y1="471" x2="652.9" y2="471" stroke="#ebeef8" stroke-width="1"/>
<text x="604.9" y="347.6" font-size="14.3" fill="#506784" stroke="#506784" text-anchor="middle" font-weight="400" >WT_long_mean</text>
<g transform="translate(558.5,354)"><g filter="url(#hot03)">
<use href="#egg" fill="url(#g03_0)"/>
</g></g>
<rect x="654.2" y="368.5" width="16" height="72.5" fill="url(#cb)"/>
<text x="673.5" y="395.5" font-size="12.5" fill="#506784" stroke="#506784" text-anchor="start" font-weight="400" >4</text>
<text x="673.5" y="421.2" font-size="12.5" fill="#506784" stroke="#506784" text-anchor="start" font-weight="400" >2</text>
<line x1="45.6" y1="490.3" x2="45.6" y2="608" stroke="#ebeef8" stroke-width="1"/>
<line x1="69.3" y1="490.3" x2="69.3" y2="608" stroke="#ebeef8" stroke-width="1"/>
<line x1="93.0" y1="490.3" x2="93.0" y2="608" stroke="#ebeef8" stroke-width="1"/>
<line x1="116.7" y1="490.3" x2="116.7" y2="608" stroke="#ebeef8" stroke-width="1"/>
<line x1="45.6" y1="529.7" x2="140.4" y2="529.7" stroke="#ebeef8" stroke-width="1"/>
<line x1="45.6" y1="568.1" x2="140.4" y2="568.1" stroke="#ebeef8" stroke-width="1"/>
<line x1="45.6" y1="608" x2="140.4" y2="608" stroke="#ebeef8" stroke-width="1"/>
<text x="92.7" y="484.7" font-size="14.3" fill="#506784" stroke="#506784" text-anchor="middle" font-weight="400" >sleep_percentage_std</text>
<g transform="translate(46.0,491)"><g filter="url(#hot10)">
<use href="#egg" fill="url(#g10_0)"/>
</g></g>
<rect x="144.3" y="521.5" width="16" height="72.5" fill="url(#cb)"/>
<text x="163.6" y="549.6" font-size="12.5" fill="#506784" stroke="#506784" text-anchor="start" font-weight="400" >10</text>
<text x="163.6" y="579.0" font-size="12.5" fill="#506784" stroke="#506784" text-anchor="start" font-weight="400" >5</text>
<line x1="216.4" y1="490.3" x2="216.4" y2="608" stroke="#ebeef8" stroke-width="1"/>
<line x1="240.1" y1="490.3" x2="240.1" y2="608" stroke="#ebeef8" stroke-width="1"/>
<line x1="263.8" y1="490.3" x2="263.8" y2="608" stroke="#ebeef8" stroke-width="1"/>
<line x1="287.5" y1="490.3" x2="287.5" y2="608" stroke="#ebeef8" stroke-width="1"/>
<line x1="216.4" y1="529.7" x2="311.2" y2="529.7" stroke="#ebeef8" stroke-width="1"/>
<line x1="216.4" y1="568.1" x2="311.2" y2="568.1" stroke="#ebeef8" stroke-width="1"/>
<line x1="216.4" y1="608" x2="311.2" y2="608" stroke="#ebeef8" stroke-width="1"/>
<text x="263.5" y="484.7" font-size="14.3" fill="#506784" stroke="#506784" text-anchor="middle" font-weight="400" >LW_len_std</text>
<g transform="translate(216.8,491)"><g filter="url(#hot11)">
<use href="#egg" fill="url(#g11_0)"/>
<use href="#egg" fill="url(#g11_1)"/>
</g></g>
<rect x="314.5" y="521.5" width="16" height="72.5" fill="url(#cb)"/>
<text x="333.8" y="546.7" font-size="12.5" fill="#506784" stroke="#506784" text-anchor="start" font-weight="400" >4</text>
<text x="333.8" y="572.2" font-size="12.5" fill="#506784" stroke="#506784" text-anchor="start" font-weight="400" >2</text>
<line x1="387.0" y1="490.3" x2="387.0" y2="608" stroke="#ebeef8" stroke-width="1"/>
<line x1="410.7" y1="490.3" x2="410.7" y2="608" stroke="#ebeef8" stroke-width="1"/>
<line x1="434.4" y1="490.3" x2="434.4" y2="608" stroke="#ebeef8" stroke-width="1"/>
<line x1="458.1" y1="490.3" x2="458.1" y2="608" stroke="#ebeef8" stroke-width="1"/>
<line x1="387.0" y1="529.7" x2="481.8" y2="529.7" stroke="#ebeef8" stroke-width="1"/>
<line x1="387.0" y1="568.1" x2="481.8" y2="568.1" stroke="#ebeef8" stroke-width="1"/>
<line x1="387.0" y1="608" x2="481.8" y2="608" stroke="#ebeef8" stroke-width="1"/>
<text x="434.1" y="484.7" font-size="14.3" fill="#506784" stroke="#506784" text-anchor="middle" font-weight="400" >ST_long_std</text>
<g transform="translate(387.4,491)"><g filter="url(#hot12)">
<use href="#egg" fill="url(#g12_0)"/>
<use href="#egg" fill="url(#g12_1)"/>
</g></g>
<rect x="484.5" y="521.5" width="16" height="72.5" fill="url(#cb)"/>
<text x="503.8" y="538.6" font-size="12.5" fill="#506784" stroke="#506784" text-anchor="start" font-weight="400" >4</text>
<text x="503.8" y="554.6" font-size="12.5" fill="#506784" stroke="#506784" text-anchor="start" font-weight="400" >3</text>
<text x="503.8" y="570.4" font-size="12.5" fill="#506784" stroke="#506784" text-anchor="start" font-weight="400" >2</text>
<text x="503.8" y="585.9" font-size="12.5" fill="#506784" stroke="#506784" text-anchor="start" font-weight="400" >1</text>
<line x1="558.1" y1="490.3" x2="558.1" y2="608" stroke="#ebeef8" stroke-width="1"/>
<line x1="581.8" y1="490.3" x2="581.8" y2="608" stroke="#ebeef8" stroke-width="1"/>
<line x1="605.5" y1="490.3" x2="605.5" y2="608" stroke="#ebeef8" stroke-width="1"/>
<line x1="629.2" y1="490.3" x2="629.2" y2="608" stroke="#ebeef8" stroke-width="1"/>
<line x1="558.1" y1="529.7" x2="652.9" y2="529.7" stroke="#ebeef8" stroke-width="1"/>
<line x1="558.1" y1="568.1" x2="652.9" y2="568.1" stroke="#ebeef8" stroke-width="1"/>
<line x1="558.1" y1="608" x2="652.9" y2="608" stroke="#ebeef8" stroke-width="1"/>
<text x="604.9" y="484.7" font-size="14.3" fill="#506784" stroke="#506784" text-anchor="middle" font-weight="400" >WT_long_std</text>
<g transform="translate(558.5,491)"><g filter="url(#hot13)">
<use href="#egg" fill="url(#g13_0)"/>
</g></g>
<rect x="654.2" y="521.5" width="16" height="72.5" fill="url(#cb)"/>
<text x="673.5" y="534.1" font-size="12.5" fill="#506784" stroke="#506784" text-anchor="start" font-weight="400" >4</text>
<text x="673.5" y="550.7" font-size="12.5" fill="#506784" stroke="#506784" text-anchor="start" font-weight="400" >3</text>
<text x="673.5" y="567.0" font-size="12.5" fill="#506784" stroke="#506784" text-anchor="start" font-weight="400" >2</text>
<text x="673.5" y="583.3" font-size="12.5" fill="#506784" stroke="#506784" text-anchor="start" font-weight="400" >1</text>
</svg>
</body></html>
